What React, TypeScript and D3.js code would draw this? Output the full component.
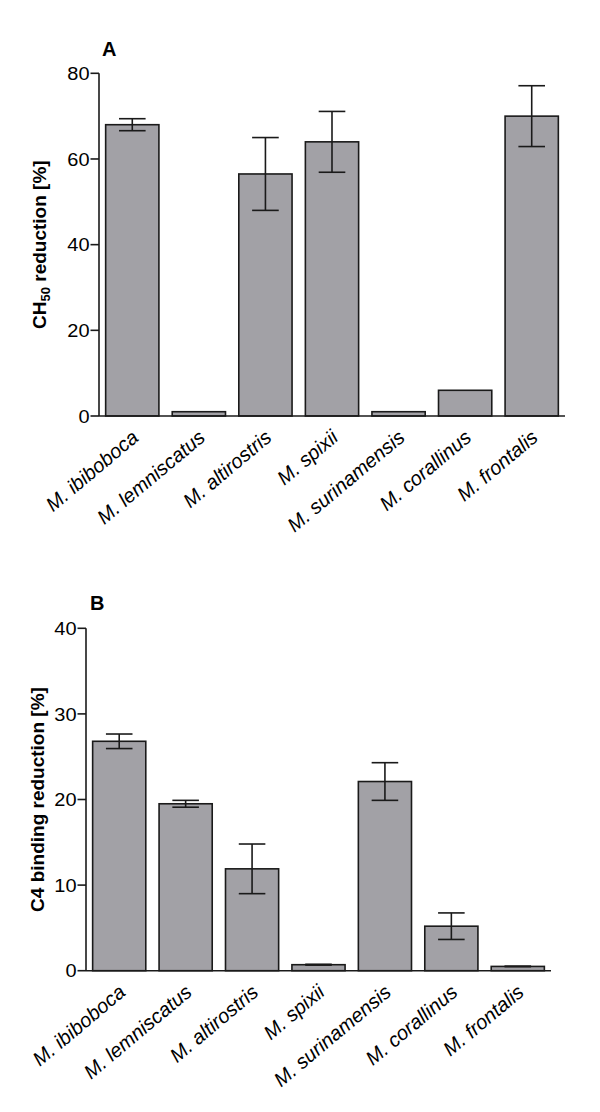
import React from "react";
import * as d3 from "d3";

const species = [
  "M. ibiboboca",
  "M. lemniscatus",
  "M. altirostris",
  "M. spixii",
  "M. surinamensis",
  "M. corallinus",
  "M. frontalis",
];

const ch50Values = [68.0, 1.0, 56.5, 64.0, 1.0, 6.0, 70.0];
const ch50Errors = [1.4, 0, 8.5, 7.1, 0, 0, 7.1];
const ch50Ticks = [0, 20, 40, 60, 80];

const c4Values = [26.8, 19.5, 11.9, 0.7, 22.1, 5.2, 0.5];
const c4Errors = [0.85, 0.4, 2.9, 0.05, 2.2, 1.55, 0.03];
const c4Ticks = [0, 10, 20, 30, 40];

const BAR_FILL = "#a2a1a6";
const INK = "#1a1a1a";
const FONT = "'Liberation Sans', Arial, Helvetica, sans-serif";

type PanelProps = {
  letter: string;
  letterX: number;
  letterY: number;
  axisX: number;
  xEnd: number;
  y0: number;
  yTop: number;
  yMax: number;
  ticks: number[];
  values: number[];
  errors: number[];
  title: React.ReactNode;
  titleX: number;
};

function Panel(p: PanelProps) {
  const x = d3
    .scaleBand<string>()
    .domain(species)
    .range([p.axisX, p.xEnd])
    .paddingInner(0.2)
    .paddingOuter(0.1);
  const y = d3.scaleLinear().domain([0, p.yMax]).range([p.y0, p.yTop]);
  const bw = x.bandwidth();
  const cap = bw * 0.5;
  return (
    <g>
      <text
        x={p.letterX}
        y={p.letterY}
        fontFamily={FONT}
        fontWeight="bold"
        fontSize={20}
        fill="#000"
      >
        {p.letter}
      </text>
      {species.map((s, i) => {
        const v = p.values[i];
        const top = y(v);
        return (
          <rect
            key={s}
            x={x(s)}
            y={top}
            width={bw}
            height={p.y0 - top}
            fill={BAR_FILL}
            stroke={INK}
            strokeWidth={1.6}
          />
        );
      })}
      {species.map((s, i) => {
        const e = p.errors[i];
        if (!e) return null;
        const v = p.values[i];
        const cx = (x(s) as number) + bw / 2;
        const hi = y(v + e);
        const lo = y(v - e);
        return (
          <g key={"e" + s} stroke={INK} strokeWidth={1.6}>
            <line x1={cx} x2={cx} y1={hi} y2={lo} />
            <line x1={cx - cap / 2} x2={cx + cap / 2} y1={hi} y2={hi} />
            <line x1={cx - cap / 2} x2={cx + cap / 2} y1={lo} y2={lo} />
          </g>
        );
      })}
      <line
        x1={p.axisX}
        x2={p.axisX}
        y1={p.yTop}
        y2={p.y0}
        stroke={INK}
        strokeWidth={1.6}
      />
      {p.ticks.map((t) => (
        <g key={t}>
          <line
            x1={p.axisX - 8.5}
            x2={p.axisX}
            y1={y(t)}
            y2={y(t)}
            stroke={INK}
            strokeWidth={1.6}
          />
          <text
            transform={`translate(${p.axisX - 9.5},${y(t)}) scale(1.08,1)`}
            dy="0.36em"
            textAnchor="end"
            fontFamily={FONT}
            fontSize={18.5}
            fill="#000"
          >
            {t}
          </text>
        </g>
      ))}
      <line
        x1={p.axisX}
        x2={p.xEnd}
        y1={p.y0}
        y2={p.y0}
        stroke={INK}
        strokeWidth={1.6}
      />
      {species.map((s) => {
        const cx = (x(s) as number) + bw / 2;
        return (
          <text
            key={"l" + s}
            transform={`translate(${cx + 7.5},${p.y0 + 23.5}) rotate(-40)`}
            textAnchor="end"
            fontFamily={FONT}
            fontStyle="italic"
            fontSize={20}
            fill="#000"
          >
            {s}
          </text>
        );
      })}
      <text
        transform={`translate(${p.titleX},${(p.y0 + p.yTop) / 2}) rotate(-90)`}
        textAnchor="middle"
        fontFamily={FONT}
        fontWeight="bold"
        fontSize={19}
        fill="#000"
      >
        {p.title}
      </text>
    </g>
  );
}

export default function App() {
  return (
    <svg
      width={600}
      height={1112}
      style={{ position: "absolute", left: 0, top: 0, background: "#fff" }}
    >
      <rect width={600} height={1112} fill="#fff" />
      <Panel
        letter="A"
        letterX={102}
        letterY={56}
        axisX={99}
        xEnd={565}
        y0={416}
        yTop={73.3}
        yMax={80}
        ticks={ch50Ticks}
        values={ch50Values}
        errors={ch50Errors}
        titleX={46}
        title={
          <>
            CH
            <tspan fontSize={13} dy={4}>
              50
            </tspan>
            <tspan dy={-4}> reduction [%]</tspan>
          </>
        }
      />
      <Panel
        letter="B"
        letterX={90}
        letterY={610}
        axisX={86}
        xEnd={551}
        y0={970.7}
        yTop={628.3}
        yMax={40}
        ticks={c4Ticks}
        values={c4Values}
        errors={c4Errors}
        titleX={44}
        title={"C4 binding reduction [%]"}
      />
    </svg>
  );
}
